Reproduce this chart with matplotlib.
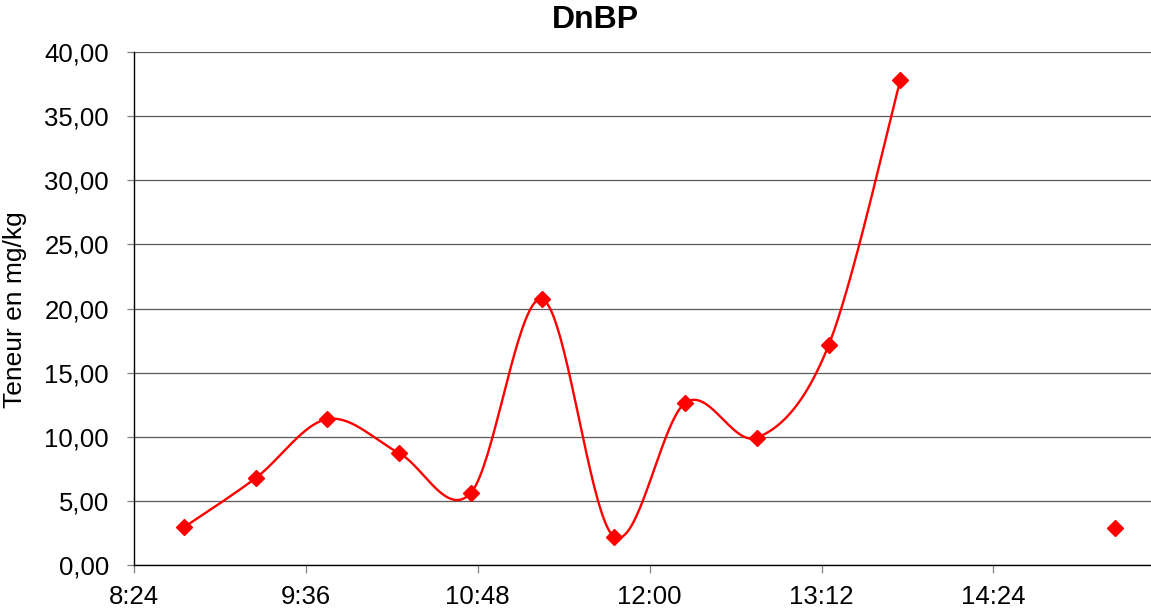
import numpy as np
import matplotlib
matplotlib.use("Agg")
import matplotlib.pyplot as plt
from matplotlib.ticker import FixedLocator, FuncFormatter

# ---- data ----
times = ["8:45", "9:15", "9:45", "10:15", "10:45", "11:15", "11:45",
         "12:15", "12:45", "13:15", "13:45", "15:15"]
values = [2.95, 6.78, 11.38, 8.73, 5.60, 20.72, 2.22,
          12.66, 9.93, 17.15, 37.80, 2.92]
title = "DnBP"
ylabel = "Teneur en mg/kg"
xtick_labels = ["8:24", "9:36", "10:48", "12:00", "13:12", "14:24"]


def to_min(s):
    h, m = s.split(":")
    return int(h) * 60 + int(m)


x = np.array([to_min(t) for t in times], dtype=float)
y = np.array(values, dtype=float)
xticks = [to_min(t) for t in xtick_labels]


def smooth(xs, ys, n=40):
    """Excel-like smoothed line: cubic Bezier with Catmull-Rom control points."""
    P = np.column_stack([xs, ys])
    out = [P[0]]
    m = len(P)
    for i in range(m - 1):
        p0 = P[i - 1] if i > 0 else P[i]
        p1 = P[i]
        p2 = P[i + 1]
        p3 = P[i + 2] if i + 2 < m else P[i + 1]
        c1 = p1 + (p2 - p0) / 6.0
        c2 = p2 - (p3 - p1) / 6.0
        t = np.linspace(0, 1, n)[1:, None]
        seg = ((1 - t) ** 3) * p1 + 3 * ((1 - t) ** 2) * t * c1 + 3 * (1 - t) * t ** 2 * c2 + t ** 3 * p2
        out.extend(seg)
    out = np.array(out)
    return out[:, 0], out[:, 1]


plt.rcParams['font.family'] = ['Liberation Sans', 'DejaVu Sans']

fig = plt.figure(figsize=(11.51, 6.12), dpi=100)
ax = fig.add_axes([134 / 1151, 47 / 612, 1 - 134 / 1151, 513 / 612])

# split series where there is a gap (> 30 min)
segments = []
start = 0
for i in range(1, len(x)):
    if x[i] - x[i - 1] > 30:
        segments.append((start, i))
        start = i
segments.append((start, len(x)))

red = "#FF0000"
for a, b in segments:
    if b - a > 1:
        sx, sy = smooth(x[a:b], y[a:b])
        ax.plot(sx, sy, color=red, lw=1.7, zorder=3, solid_capstyle='round')
    ax.plot(x[a:b], y[a:b], linestyle='none', marker='D', markersize=8,
            color=red, mec=red, zorder=4)

ax.set_xlim(504, 930)
ax.set_ylim(0, 40)
ax.yaxis.set_major_locator(FixedLocator(np.arange(0, 41, 5)))
ax.yaxis.set_major_formatter(FuncFormatter(lambda v, p: f"{v:.2f}".replace(".", ",")))
ax.set_xticks(xticks)
ax.set_xticklabels(xtick_labels)

ax.grid(axis='y', color='#5a5a5a', lw=0.9)
ax.set_axisbelow(True)
for s in ['top', 'right']:
    ax.spines[s].set_visible(False)
for s in ['left', 'bottom']:
    ax.spines[s].set_color('black')
    ax.spines[s].set_linewidth(1.0)

ax.tick_params(axis='y', direction='out', length=5, width=0.9, color='#808080',
               labelsize=18.5, pad=13)
ax.tick_params(axis='x', direction='out', length=5.5, width=0.9, color='#808080',
               labelsize=18.5, pad=9)

fig.text(595 / 1151, 1 - 20 / 612, title, ha='center', va='center',
         fontsize=23, fontweight='bold')
fig.text(15 / 1151, 1 - 310 / 612, ylabel, ha='center', va='center',
         rotation=90, fontsize=19)

fig.savefig("out.png", dpi=100)
